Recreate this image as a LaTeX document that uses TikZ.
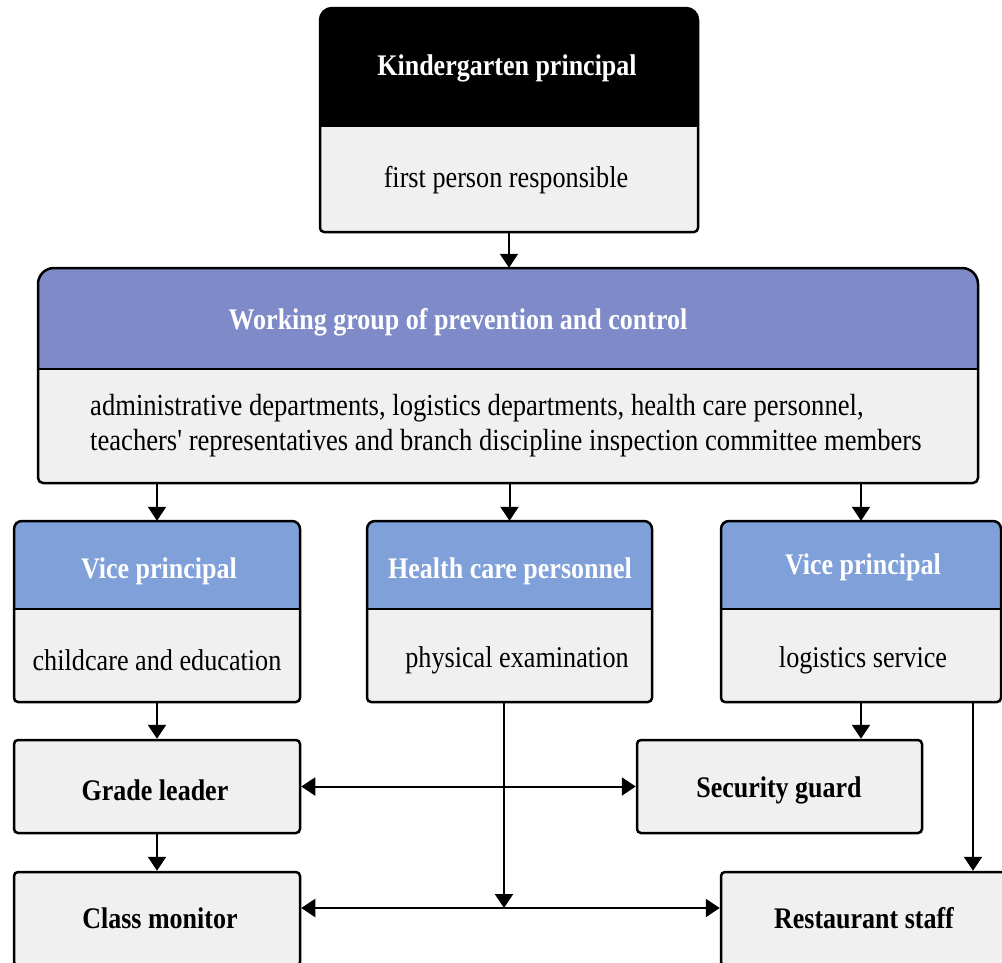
\documentclass[tikz,border=0pt]{standalone}
\usepackage{fontspec}
\setmainfont{Liberation Serif}[Ligatures=TeXOff]
\usetikzlibrary{arrows.meta,calc}
\definecolor{hdrblack}{RGB}{0,0,0}
\definecolor{hdrpurple}{RGB}{127,139,200}
\definecolor{hdrblue}{RGB}{128,160,218}
\definecolor{bodyc}{RGB}{240,240,240}
\newcommand\tallt[1]{\scalebox{1}[1.15]{#1}}
\newcommand\twopart[9]{%
  \node[inner sep=0pt, minimum width={(#3-#2)*1pt}, minimum height={(#6-#4)*1pt}] (#1) at ({(#2+#3)/2},{(#4+#6)/2}) {};
  \fill[#7, rounded corners=#8] (#2,#5) -- (#2,#4) -- (#3,#4) -- (#3,#5);
  \fill[bodyc, rounded corners=#9] (#3,#5) -- (#3,#6) -- (#2,#6) -- (#2,#5);
  \draw[boxline, rounded corners=#8] (#2,#5) -- (#2,#4) -- (#3,#4) -- (#3,#5);
  \draw[boxline, rounded corners=#9] (#3,#5) -- (#3,#6) -- (#2,#6) -- (#2,#5);
  \draw[boxline] (#2,#5) -- (#3,#5);
}
\tikzset{
  boxline/.style={line width=2.5pt, draw=black, line join=round},
  plainbox/.style={draw=black, line width=2.5pt, fill=bodyc, rounded corners=4pt, inner sep=0pt},
  hdrtext/.style={text=white, font=\fontsize{26}{30}\selectfont\bfseries, inner sep=0pt},
  bodytext/.style={text=black, font=\fontsize{26.2}{30}\selectfont, inner sep=0pt},
  wgtext/.style={text=black, font=\fontsize{26.6}{30}\selectfont, inner sep=0pt},
  boldtext/.style={text=black, font=\fontsize{26}{30}\selectfont\bfseries},
  arr/.style={line width=2pt, -{Triangle[width=18pt,length=14pt]}},
  arrb/.style={line width=2pt, {Triangle[width=18pt,length=14pt]}-{Triangle[width=18pt,length=14pt]}}
}
\begin{document}
\begin{tikzpicture}[x=1pt,y=-1pt]
\clip (0,0) rectangle (1002,962);
\fill[white] (0,0) rectangle (1002,962);

% top box
\twopart{top}{320}{698}{8}{126}{232}{hdrblack}{12pt}{4pt}
\node[hdrtext] (toph) at (507,68) {\tallt{Kindergarten principal}};
\node[bodytext] (topb) at (506,180) {\tallt{first person responsible}};

% working group
\twopart{wg}{38}{978}{268}{369}{483}{hdrpurple}{16pt}{5pt}
\node[hdrtext] (wgh) at (458,322) {\tallt{Working group of prevention and control}};
\node[wgtext, anchor=west] (wgl1) at (90,408) {\tallt{administrative departments, logistics departments, health care personnel,}};
\node[wgtext, anchor=west] (wgl2) at (90,443) {\tallt{teachers' representatives and branch discipline inspection committee members}};

% three boxes
\twopart{vp1}{14}{300}{521}{609}{702}{hdrblue}{8pt}{4pt}
\twopart{hc}{367}{652}{521}{609}{702}{hdrblue}{8pt}{4pt}
\twopart{vp2}{721}{1001}{521}{609}{702}{hdrblue}{8pt}{4pt}
\node[hdrtext] (vp1h) at (159,571) {\tallt{Vice principal}};
\node[hdrtext] (hch) at (510,571) {\tallt{Health care personnel}};
\node[hdrtext] (vp2h) at (863,567) {\tallt{Vice principal}};
\node[bodytext] (vp1b) at (157,660) {\tallt{childcare and education}};
\node[bodytext] (hcb) at (517,660) {\tallt{physical examination}};
\node[bodytext] (vp2b) at (863,660) {\tallt{logistics service}};

% plain boxes
\node[plainbox, minimum width=286pt, minimum height=93pt] (grade) at (157,786.5) {};
\node[boldtext] (gradet) at (155,790) {\tallt{Grade leader}};
\node[plainbox, minimum width=285pt, minimum height=93pt] (sec) at (779.5,786.5) {};
\node[boldtext] (sect) at (779,790) {\tallt{Security guard}};
\node[plainbox, minimum width=286pt, minimum height=94pt] (class) at (157,919) {};
\node[boldtext] (classt) at (160,918) {\tallt{Class monitor}};
\node[plainbox, minimum width=287pt, minimum height=94pt] (rest) at (864.5,919) {};
\node[boldtext] (restt) at (864,918) {\tallt{Restaurant staff}};

% connectors
\draw[arr] (top.south) -- (top.south |- wg.north);
\draw[arr] (vp1.north |- wg.south) -- (vp1.north);
\draw[arr] (hc.north |- wg.south) -- (hc.north);
\draw[arr] (vp2.north |- wg.south) -- (vp2.north);
\draw[arr] (vp1.south) -- (grade.north);
\draw[arr] (grade.south) -- (class.north);
\draw[arr] (vp2.south) -- (vp2.south |- sec.north);
\draw[arr] ([xshift=112pt]vp2.south) -- ([xshift=112pt]vp2.south |- rest.north);
\draw[arrb] (grade.east) -- (sec.west);
\coordinate (j) at (504,908);
\draw[arr] ([xshift=-5.5pt]hc.south) -- (j);
\draw[arrb] (j -| class.east) -- (j -| rest.west);
\end{tikzpicture}
\end{document}
